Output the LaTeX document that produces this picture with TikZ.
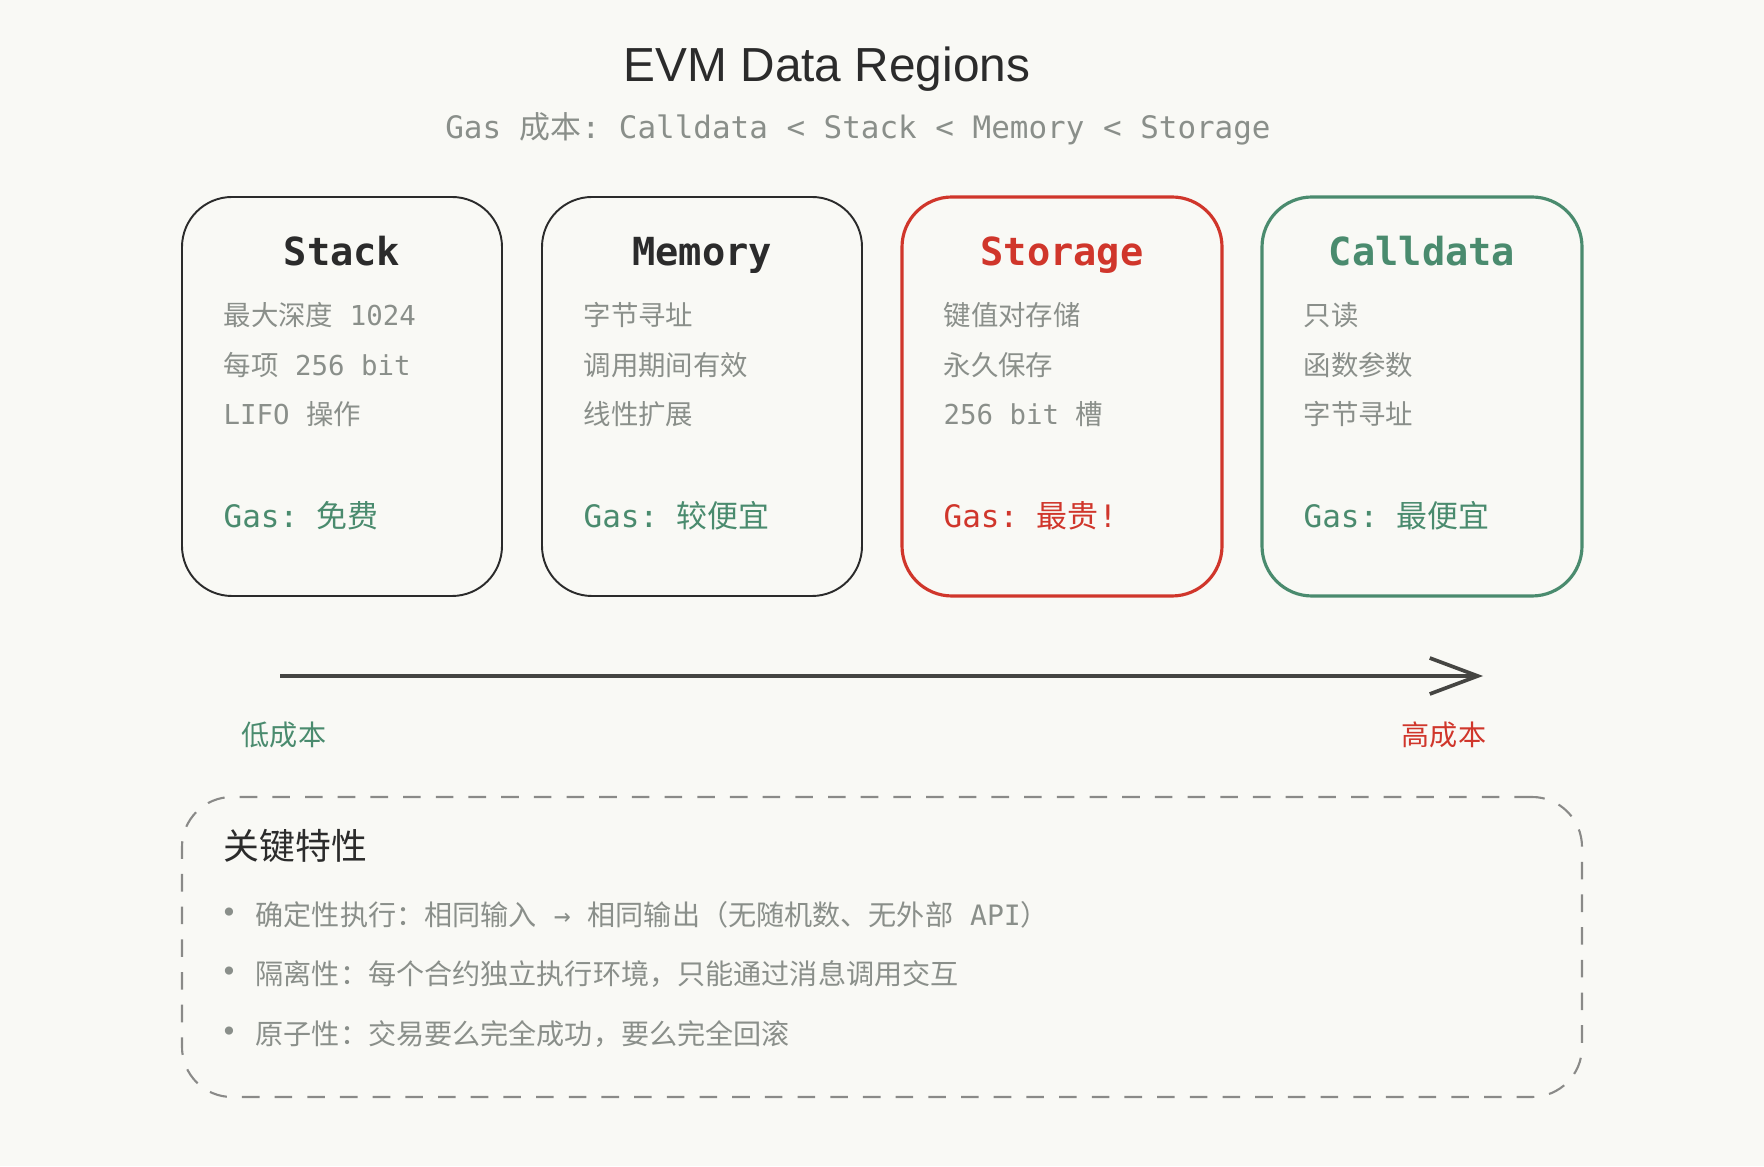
\documentclass[tikz,border=0pt]{standalone}
\usepackage{fontspec}
\setmainfont{Liberation Sans}
\setmonofont{DejaVu Sans Mono}
\newfontfamily\cjk{Noto Sans CJK SC}
\usetikzlibrary{arrows.meta}

\definecolor{paper}{HTML}{F9F9F5}
\definecolor{inkdark}{HTML}{2B2B2B}
\definecolor{inkgray}{HTML}{8A8F8A}
\definecolor{gasgreen}{HTML}{4A8B6E}
\definecolor{gasred}{HTML}{D0362B}
\definecolor{axisgray}{HTML}{454542}
\definecolor{dashgray}{HTML}{8A8A88}

\newcommand{\zh}[1]{{\cjk #1}}

\tikzset{
    region/.style={draw=inkdark,line width=0.55pt,rounded corners=0.5cm,
        minimum width=3.2cm,minimum height=3.99cm,fill=paper},
    regiontitle/.style={anchor=base,inner sep=0pt,
        font=\ttfamily\bfseries\fontsize{11}{13}\selectfont},
    itemline/.style={anchor=west,inner sep=0pt,text=inkgray,
        font=\ttfamily\fontsize{7.8}{9}\selectfont},
    gasline/.style={anchor=west,inner sep=0pt,
        font=\ttfamily\fontsize{8.8}{10}\selectfont},
    bulletline/.style={anchor=west,inner sep=0pt,text=inkgray,
        font=\cjk\fontsize{8}{10}\selectfont},
}

\begin{document}
\begin{tikzpicture}[x=1cm,y=1cm,
    >={Straight Barb[length=4.8mm,width=3.6mm]}]
    \fill[paper] (0,0) rectangle (17.64,11.66);
    \useasboundingbox (0,0) rectangle (17.64,11.66);

    \node[text=inkdark,font=\fontsize{13.6}{16}\selectfont]
        (title) at (8.27,10.97) {EVM Data Regions};
    \node[text=inkgray,font=\ttfamily\fontsize{8.8}{10}\selectfont]
        (subtitle) at (8.58,10.37)
        {Gas \zh{成本}: Calldata < Stack < Memory < Storage};

    % the four regions
    \node[region] (stack) at (3.42,7.695) {};
    \node[region] (memory) at (7.02,7.695) {};
    \node[region,draw=gasred,line width=0.9pt] (storage) at (10.62,7.695) {};
    \node[region,draw=gasgreen,line width=0.9pt] (calldata) at (14.22,7.695) {};

    \node[regiontitle,text=inkdark] (stack-title) at (3.42,9.0) {Stack};
    \node[itemline] (stack-a) at (2.23,8.51) {\zh{最大深度} 1024};
    \node[itemline] (stack-b) at (2.23,8.01) {\zh{每项} 256 bit};
    \node[itemline] (stack-c) at (2.23,7.52) {LIFO \zh{操作}};
    \node[gasline,text=gasgreen] (stack-gas) at (2.23,6.50) {Gas: \zh{免费}};

    \node[regiontitle,text=inkdark] (memory-title) at (7.02,9.0) {Memory};
    \node[itemline] (memory-a) at (5.83,8.51) {\zh{字节寻址}};
    \node[itemline] (memory-b) at (5.83,8.01) {\zh{调用期间有效}};
    \node[itemline] (memory-c) at (5.83,7.52) {\zh{线性扩展}};
    \node[gasline,text=gasgreen] (memory-gas) at (5.83,6.50) {Gas: \zh{较便宜}};

    \node[regiontitle,text=gasred] (storage-title) at (10.62,9.0) {Storage};
    \node[itemline] (storage-a) at (9.43,8.51) {\zh{键值对存储}};
    \node[itemline] (storage-b) at (9.43,8.01) {\zh{永久保存}};
    \node[itemline] (storage-c) at (9.43,7.52) {256 bit \zh{槽}};
    \node[gasline,text=gasred] (storage-gas) at (9.43,6.50) {Gas: \zh{最贵}!};

    \node[regiontitle,text=gasgreen] (calldata-title) at (14.22,9.0) {Calldata};
    \node[itemline] (calldata-a) at (13.03,8.51) {\zh{只读}};
    \node[itemline] (calldata-b) at (13.03,8.01) {\zh{函数参数}};
    \node[itemline] (calldata-c) at (13.03,7.52) {\zh{字节寻址}};
    \node[gasline,text=gasgreen] (calldata-gas) at (13.03,6.50) {Gas: \zh{最便宜}};

    % cost axis
    \coordinate (low-end) at (2.80,4.90);
    \coordinate (high-end) at (14.83,4.90);
    \draw[->,line width=1.05pt,axisgray] (low-end) -- (high-end);
    \node[text=gasgreen,font=\cjk\fontsize{8}{10}\selectfont]
        (low-label) at (2.84,4.31) {低成本};
    \node[text=gasred,font=\cjk\fontsize{8}{10}\selectfont]
        (high-label) at (14.44,4.31) {高成本};

    % key properties
    \node[draw=dashgray,line width=0.6pt,dash pattern=on 5pt off 4.3pt,
        rounded corners=0.5cm,minimum width=14cm,minimum height=3cm]
        (features) at (8.82,2.19) {};
    \node[anchor=west,inner sep=0pt,text=inkdark,
        font=\cjk\fontsize{10.2}{12}\selectfont]
        (features-title) at (2.23,3.20) {关键特性};

    \node[bulletline] (dot-a) at (2.20,2.51) {\texttt{•}};
    \node[bulletline] (item-a) at (2.55,2.51)
        {确定性执行：相同输入\texttt{ → }相同输出（无随机数、无外部\texttt{ API}）};
    \node[bulletline] (dot-b) at (2.20,1.92) {\texttt{•}};
    \node[bulletline] (item-b) at (2.55,1.92)
        {隔离性：每个合约独立执行环境，只能通过消息调用交互};
    \node[bulletline] (dot-c) at (2.20,1.32) {\texttt{•}};
    \node[bulletline] (item-c) at (2.55,1.32)
        {原子性：交易要么完全成功，要么完全回滚};
\end{tikzpicture}
\end{document}
